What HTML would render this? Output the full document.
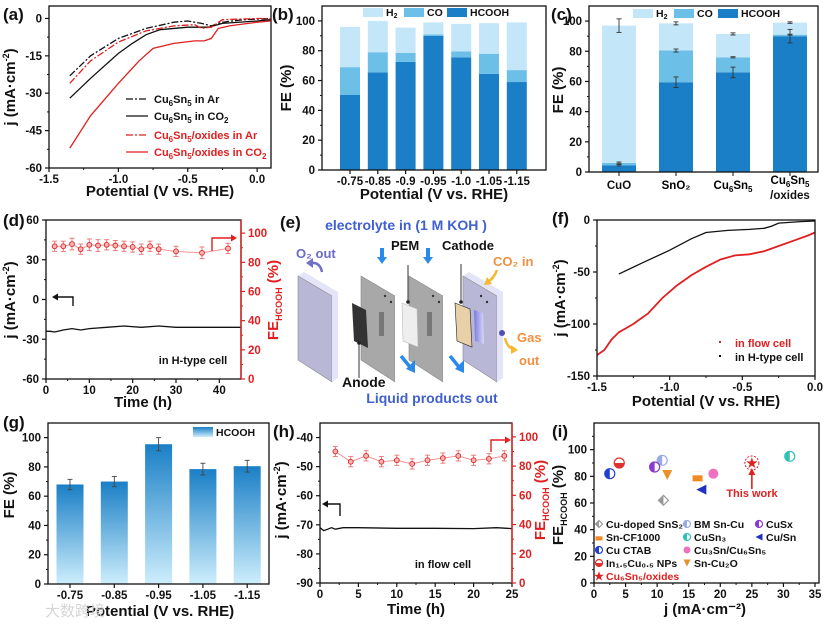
<!DOCTYPE html>
<html><head><meta charset="utf-8">
<style>
html,body{margin:0;padding:0;background:#fff;}
svg{display:block;font-family:"Liberation Sans","Noto Sans CJK SC",sans-serif;}
</style></head>
<body>
<svg id="fig" width="827" height="626" viewBox="0 0 827 626" xmlns="http://www.w3.org/2000/svg"></svg>
<script>
// ---------- DATA ----------
const aArX=[-1.35,-1.2,-1.0,-0.8,-0.6,-0.5,-0.4,-0.33,-0.25,-0.1,0.1];
const aArY=[-23,-15,-8,-4,-1.5,-1,-2,-3,-1.5,-0.5,0];
const aCO2X=[-1.35,-1.2,-1.0,-0.9,-0.8,-0.7,-0.5,-0.35,-0.25,0,0.1];
const aCO2Y=[-32,-24,-14,-10,-6.5,-4.5,-3.5,-3.5,-2,-1,-0.5];
const aOxArX=[-1.35,-1.2,-1.0,-0.8,-0.6,-0.45,-0.4,-0.33,-0.25,0,0.1];
const aOxArY=[-26,-17,-9.5,-5,-3,-2.5,-4,-3.5,-0.5,0,0];
const aOxCO2X=[-1.35,-1.2,-1.0,-0.85,-0.75,-0.6,-0.45,-0.38,-0.33,-0.28,-0.2,0,0.1];
const aOxCO2Y=[-52,-39,-26,-17,-12,-10,-9,-9,-8,-4,-3,-1.5,-1];
const bCats=['-0.75','-0.85','-0.9','-0.95','-1.0','-1.05','-1.15'];
const bHCOOH=[50.5,65.5,72.5,90,75.5,64.5,59];
const bCO=[18.5,13.5,6,1,4,13.5,8];
const bH2=[27,21,17,8,18.5,20.5,32];
const cCats=['CuO','SnO2','Cu6Sn5','Cu6Sn5/oxides'];
const cHCOOH=[4.5,59.5,66,90];
const cCO=[1.5,21,10,1];
const cH2=[91,18,15.5,8];
const cErrHC=[0.5,3.5,3.5,4.5];
const cErrCO=[0.6,1,0.4,0.3];
const cErrTot=[4.5,1,0.7,0.5];
const dJt=[0,1,2,4,6,8,10,14,18,22,26,30,36,40,45];
const dJ=[-24,-24,-24.5,-23,-22,-23,-22,-21,-20,-21,-20,-21,-21,-21,-21];
const dFEt=[2,4,6,8,10,12,14,16,18,20,22,24,26,30,36,42];
const dFE=[91,91,92.5,89,92,91.5,92,91.5,91,90.5,89,91,89,87.5,86.5,89.5];
const dFEerr=[3.5,3.5,4,3.5,4,4,3.5,3.5,3.5,3.5,3.5,3.5,3.5,3.5,4,3.5];
const fHX=[-1.35,-1.2,-1.0,-0.85,-0.75,-0.6,-0.45,-0.35,-0.3,-0.25,-0.1,0];
const fHY=[-52,-42,-29,-18,-12,-10,-9,-8,-6,-3,-1.5,-1];
const fFX=[-1.5,-1.45,-1.4,-1.35,-1.25,-1.15,-1.05,-0.95,-0.85,-0.75,-0.65,-0.55,-0.45,-0.35,-0.25,-0.15,-0.05,0];
const fFY=[-130,-125,-115,-108,-100,-90,-75,-63,-53,-45,-38,-34,-33,-30,-25,-20,-15,-12];
const gCats=['-0.75','-0.85','-0.95','-1.05','-1.15'];
const gFE=[68,70,95.5,78.5,80.5];
const gErr=[3.5,3.5,4.5,4,4];
const hJt=[0,0.5,1,1.5,2,3,5,10,15,20,23,25];
const hJ=[-71,-72,-71.5,-71,-71.5,-71,-71,-71.2,-71.2,-71.3,-71,-71.3];
const hFEt=[2,4,6,8,10,12,14,16,18,20,22,24];
const hFE=[90,83,87,83,84,81.5,84,85.5,87,84,85,87];
const hFEerr=[3.5,3.5,3.5,3.5,3.5,3.5,3.5,3.5,3.5,3.5,3.5,3.5];
const iNames=['Cu-doped SnS2','BM Sn-Cu','CuSx','Sn-CF1000','CuSn3','Cu/Sn','Cu CTAB','Cu3Sn/Cu6Sn5','In1.5Cu0.5 NPs','Sn-Cu2O','Cu6Sn5/oxides'];
const iJ=[11,10.8,9.6,16.4,31,17,2.5,18.9,4,11.6,25];
const iFE=[62,92,87,80,95,70,82,82,90,81,90];

// ---------- HELPERS ----------
const NS='http://www.w3.org/2000/svg';
const svg=document.getElementById('fig');
function mk(tag,a,p){const e=document.createElementNS(NS,tag);for(const k in a)e.setAttribute(k,a[k]);(p||svg).appendChild(e);return e;}
function lin(d0,d1,r0,r1){return v=>r0+(v-d0)/(d1-d0)*(r1-r0);}
function T(s,x,y,o,p){o=o||{};const e=mk('text',{x:x,y:y,'font-size':o.fs||11.5,'font-weight':o.fw||'bold','text-anchor':o.anchor||'middle',fill:o.fill||'#111'},p);if(o.rot)e.setAttribute('transform','rotate(-90 '+x+' '+y+')');e.textContent=s;return e;}
function frame(b,p){const r=mk('rect',{x:b.L,y:b.T,width:b.R-b.L,height:b.B-b.T,fill:'none',stroke:'#111','stroke-width':1.3},p);return r;}
function xTicks(b,sx,vals,labels,minors,p){vals.forEach((v,i)=>{mk('line',{x1:sx(v),x2:sx(v),y1:b.B,y2:b.B+4,stroke:'#111','stroke-width':1.2},p);const t=T(labels[i],sx(v),b.B+15,{},p);});(minors||[]).forEach(v=>mk('line',{x1:sx(v),x2:sx(v),y1:b.B,y2:b.B+2,stroke:'#111'},p));}
function yTicks(b,sy,vals,labels,minors,p,right,col){col=col||'#111';const X=right?b.R:b.L,d=right?1:-1;vals.forEach((v,i)=>{mk('line',{x1:X,x2:X+4*d,y1:sy(v),y2:sy(v),stroke:col,'stroke-width':1.2},p);const t=T(labels[i],X+7*d,sy(v)+4,{anchor:right?'start':'end',fill:col},p);});(minors||[]).forEach(v=>mk('line',{x1:X,x2:X+2*d,y1:sy(v),y2:sy(v),stroke:col},p));}
function pathOf(xs,ys,sx,sy){return xs.map((x,i)=>(i?'L':'M')+sx(x).toFixed(1)+' '+sy(ys[i]).toFixed(1)).join(' ');}
function line(xs,ys,sx,sy,col,dash,w,p){return mk('path',{d:pathOf(xs,ys,sx,sy),fill:'none',stroke:col,'stroke-width':w||1.4,'stroke-dasharray':dash||'none'},p);}
function err(x,y1,y2,col,p){mk('line',{x1:x,x2:x,y1:y1,y2:y2,stroke:col,'stroke-width':0.9},p);mk('line',{x1:x-2.5,x2:x+2.5,y1:y1,y2:y1,stroke:col,'stroke-width':0.9},p);mk('line',{x1:x-2.5,x2:x+2.5,y1:y2,y2:y2,stroke:col,'stroke-width':0.9},p);}
function grp(name){const g=mk('g',{});return g;}
function label(s,x,y,p){const t=T(s,x,y,{fs:17,anchor:'start'},p);}
function ytitle(parts,x,y,p,col){const t=mk('text',{x:x,y:y,'font-size':15,'font-weight':'bold','text-anchor':'middle',fill:col||'#111',transform:'rotate(-90 '+x+' '+y+')'},p);parts.forEach(q=>{const a={};if(q[1])a.dy=q[1];if(q[2])a['font-size']=9;const s=mk('tspan',a,t);s.textContent=q[0];});return t;}
function xtitle(s,x,y,p){const t=T(s,x,y,{fs:15},p);}
const C_HC='#1a7fc6',C_CO='#6cbfe7',C_H2='#c3e6f9';
const JTITLE=[['j (mA·cm'],['-2',-6,1],[')',6,0]];
const FETITLE=[['FE'],['HCOOH',4,1],[' (%)',-4,0]];

// ---------- (a) ----------
(function(){const g=grp('panel-a');const b={L:49,T:6,R:271,B:168};
const sx=lin(-1.5,0.1,b.L,b.R),sy=lin(-60,5,b.B,b.T);
frame(b,g);xTicks(b,sx,[-1.5,-1,-0.5,0],['-1.5','-1.0','-0.5','0.0'],[-1.25,-0.75,-0.25],g);
yTicks(b,sy,[0,-15,-30,-45,-60],['0','-15','-30','-45','-60'],[-7.5,-22.5,-37.5,-52.5],g);
let l=line(aArX,aArY,sx,sy,'#111','7 2 2 2',1.3,g);
l=line(aCO2X,aCO2Y,sx,sy,'#111','',1.3,g);
l=line(aOxArX,aOxArY,sx,sy,'#e02020','7 2 2 2',1.3,g);
l=line(aOxCO2X,aOxCO2Y,sx,sy,'#e02020','',1.3,g);
const leg=[[' in Ar','#111','7 2 2 2',0],[' in CO','#111','',1],['/oxides in Ar','#e02020','7 2 2 2',0],['/oxides in CO','#e02020','',1]];
[103,120,139,156].forEach((y,i)=>{const e=leg[i];mk('line',{x1:126,x2:148,y1:y-4,y2:y-4,stroke:e[1],'stroke-width':1.3,'stroke-dasharray':e[2]||'none'},g);
const t=mk('text',{x:154,y:y,'font-size':11,'font-weight':'bold',fill:e[1]},g);
[['Cu',0,0],['6',3,1],['Sn',-3,0],['5',3,1],[e[0],-3,0]].forEach(q=>{const a={};if(q[1])a.dy=q[1];if(q[2])a['font-size']=8;const s=mk('tspan',a,t);s.textContent=q[0];});
if(e[3]){const s=mk('tspan',{dy:3,'font-size':8},t);s.textContent='2';}});
ytitle(JTITLE,15,87,g);xtitle('Potential (V vs. RHE)',160,196,g);label('(a)',3,20,g);})();

function stacked(g,b,sy,cats,cx,w,hc,co,h2){cats.forEach((c,i)=>{const x=cx(i)-w/2;let y0=0;[[hc[i],C_HC,'bar-hcooh'],[co[i],C_CO,'bar-co'],[h2[i],C_H2,'bar-h2']].forEach(s=>{const r=mk('rect',{x:x,y:sy(y0+s[0]),width:w,height:sy(y0)-sy(y0+s[0]),fill:s[1]},g);y0+=s[0];});});}
function barLegend(g,xs,y,h){[['H',C_H2,'2'],['CO',C_CO],['HCOOH',C_HC]].forEach((e,i)=>{mk('rect',{x:xs[i],y:y,width:20,height:h,fill:e[1]},g);const t=T(e[0],xs[i]+23,y+h-1,{anchor:'start',fs:10.5},g);if(e[2]){const s=mk('tspan',{'font-size':7,dy:2},t);s.textContent=e[2];}});}

// ---------- (b) ----------
(function(){const g=grp('panel-b');const b={L:322,T:6,R:546,B:170};
const sy=lin(0,110,b.B,b.T);const cx=i=>350+i*27.8;
stacked(g,b,sy,bCats,cx,20,bHCOOH,bCO,bH2);
frame(b,g);xTicks(b,i=>cx(i),bCats.map((c,i)=>i),bCats,[],g);
yTicks(b,sy,[0,20,40,60,80,100],['0','20','40','60','80','100'],[10,30,50,70,90],g);
barLegend(g,[363,404,447],8,9);
ytitle([['FE (%)']],291,88,g);xtitle('Potential (V vs. RHE)',434,199,g);label('(b)',272,20,g);})();

// ---------- (c) ----------
(function(){const g=grp('panel-c');const b={L:589,T:6,R:818,B:172};
const sy=lin(0,110,b.B,b.T);const cx=i=>619+i*57;
stacked(g,b,sy,cCats,cx,34,cHCOOH,cCO,cH2);
cCats.forEach((c,i)=>{const t1=cHCOOH[i],t2=t1+cCO[i],t3=t2+cH2[i];err(cx(i),sy(t1+cErrHC[i]),sy(t1-cErrHC[i]),'#333',g);err(cx(i),sy(t2+cErrCO[i]),sy(t2-cErrCO[i]),'#333',g);err(cx(i),sy(t3+cErrTot[i]),sy(t3-cErrTot[i]),'#333',g);});
frame(b,g);
yTicks(b,sy,[0,20,40,60,80,100],['0','20','40','60','80','100'],[10,30,50,70,90],g);
cCats.forEach((c,i)=>mk('line',{x1:cx(i),x2:cx(i),y1:b.B,y2:b.B+4,stroke:'#111'},g));
let t=T('CuO',619,189,{},g);
t=mk('text',{x:676,y:189,'font-size':11.5,'font-weight':'bold','text-anchor':'middle'},g);t.textContent='SnO₂';
function cusn(x,y){const e=mk('text',{x:x,y:y,'font-size':11.5,'font-weight':'bold','text-anchor':'middle'},g);[['Cu',0,0],['6',3,1],['Sn',-3,0],['5',3,1]].forEach(q=>{const a={};if(q[1])a.dy=q[1];if(q[2])a['font-size']=8;const s=mk('tspan',a,e);s.textContent=q[0];});}
cusn(733,189);cusn(790,184);t=T('/oxides',790,199,{},g);
barLegend(g,[633,674,718],9,9);
ytitle([['FE (%)']],563,90,g);label('(c)',551,20,g);})();

function stability(g,b,sx,syL,syR,jt,j,ft,fe,fee){let l=line(jt,j,sx,syL,'#111','',1.3,g);
l=line(ft,fe,sx,syR,'#f08a8a','',0.9,g);
ft.forEach((t,i)=>{err(sx(t),syR(fe[i]+fee[i]),syR(fe[i]-fee[i]),'#e87070',g);const c=mk('circle',{cx:sx(t),cy:syR(fe[i]),r:2.4,fill:'#f7b5b5',stroke:'#e02020','stroke-width':0.9},g);});
mk('line',{x1:b.R,x2:b.R,y1:b.T,y2:b.B,stroke:'#e02020','stroke-width':1.4},g);}
function arrow(g,pts,col){mk('polyline',{points:pts.map(p=>p.join(',')).join(' '),fill:'none',stroke:col,'stroke-width':1.4},g);}
function head(g,x,y,dir,col){const d=dir;mk('polygon',{points:[[x,y],[x-6*d,y-3.5],[x-6*d,y+3.5]].map(p=>p.join(',')).join(' '),fill:col},g);}

// ---------- (d) ----------
(function(){const g=grp('panel-d');const b={L:46,T:220,R:241,B:379};
const sx=lin(0,45,b.L,b.R),syL=lin(-60,60,b.B,b.T),syR=lin(0,109,b.B,b.T);
frame(b,g);stability(g,b,sx,syL,syR,dJt,dJ,dFEt,dFE,dFEerr);
xTicks(b,sx,[0,10,20,30,40],['0','10','20','30','40'],[5,15,25,35],g);
yTicks(b,syL,[60,30,0,-30,-60],['60','30','0','-30','-60'],[45,15,-15,-45],g);
yTicks(b,syR,[0,20,40,60,80,100],['0','20','40','60','80','100'],[10,30,50,70,90],g,true,'#e02020');
arrow(g,[[73,306],[73,297],[55,297]],'#111');head(g,52,297,-1,'#111');
arrow(g,[[212,251],[212,238],[232,238]],'#e02020');head(g,237,238,1,'#e02020');
let t=T('in H-type cell',193,364,{fs:11},g);
ytitle(JTITLE,15,300,g);ytitle(FETITLE,278,300,g,'#e02020');
xtitle('Time (h)',143,407,g);label('(d)',3,226,g);})();

// ---------- (e) diagram ----------
(function(){const g=grp('panel-e-diagram');
function poly(pts,fill,name,stroke){const p=mk('polygon',{points:pts.map(q=>q.join(',')).join(' '),fill:fill,stroke:stroke||'none','stroke-width':0.6},g);return p;}
function plate(x0,x1,face,side,name){poly([[x0,276],[x0+6,272],[x1+6,292],[x1,296]],side,name+'-top');poly([[x0,276],[x1,296],[x1,382],[x0,360]],face,name+'-face','#888');poly([[x1,296],[x1+6,292],[x1+6,378],[x1,382]],side,name+'-side');}
const defs=mk('defs',{},g);const lg=mk('linearGradient',{id:'win',x1:0,y1:0,x2:1,y2:0},defs);mk('stop',{offset:0,'stop-color':'#7a7ae0'},lg);mk('stop',{offset:1,'stop-color':'#d8d8f6'},lg);
plate(298,332,'#b8b8d6','#e4e4f8','o2-block');
plate(361,395,'#a8a8a8','#ffffff','anode-plate');
plate(409,443,'#a8a8a8','#ffffff','pem-plate');
plate(463,497,'#b8b8d6','#e4e4f8','cathode-block');
[[379,312],[427,312]].forEach(p=>mk('rect',{x:p[0],y:p[1],width:5,height:24,fill:'#777'},g));
poly([[352,303],[366,310],[368,348],[354,341]],'#333','anode');
poly([[402,303],[417,309],[418,347],[403,341]],'#eeeeee','pem','#bbb');
poly([[455,303],[470,309],[472,347],[457,341]],'#e8d0a8','cathode','#222');
poly([[474,310],[483,313],[484,344],[475,341]],'url(#win)','cathode-window');
mk('circle',{cx:502,cy:333,r:3,fill:'#5050b0'},g);
[[385,296],[391,302],[433,296],[439,302],[481,296],[487,302]].forEach(p=>mk('circle',{cx:p[0],cy:p[1],r:1.2,fill:'#333'},g));
mk('line',{x1:408,y1:265,x2:408,y2:302,stroke:'#333','stroke-width':1},g);mk('circle',{cx:408,cy:302,r:1.8,fill:'#222'},g);
mk('line',{x1:461,y1:264,x2:461,y2:302,stroke:'#333','stroke-width':1},g);mk('circle',{cx:461,cy:302,r:1.8,fill:'#222'},g);
mk('line',{x1:359,y1:343,x2:359,y2:378,stroke:'#333','stroke-width':1},g);mk('circle',{cx:359,cy:343,r:1.8,fill:'#222'},g);
function blueDown(x,y){mk('rect',{x:x-2,y:y,width:4,height:10,fill:'#2a8ae8'},g);mk('polygon',{points:(x-5)+','+(y+9)+' '+(x+5)+','+(y+9)+' '+x+','+(y+16),fill:'#2a8ae8'},g);}
blueDown(382,248);blueDown(428,248);
function blueDiag(x,y){mk('line',{x1:x,y1:y,x2:x+9,y2:y+11,stroke:'#2a8ae8','stroke-width':3.5},g);mk('polygon',{points:(x+5)+','+(y+13)+' '+(x+14)+','+(y+4)+' '+(x+14)+','+(y+17),fill:'#2a8ae8'},g);}
blueDiag(401,356);blueDiag(450,356);
mk('path',{d:'M322 272 Q320 262 311 263',fill:'none',stroke:'#7070c8','stroke-width':2.5},g);mk('polygon',{points:'306,263 313,258 313,268',fill:'#7070c8'},g);
mk('path',{d:'M497 270 Q494 278 488 282',fill:'none',stroke:'#f5b82e','stroke-width':2.5},g);mk('polygon',{points:'484,285 487,277 492,284',fill:'#f5b82e'},g);
mk('path',{d:'M505 338 Q507 347 513 349',fill:'none',stroke:'#f5b82e','stroke-width':2.5},g);mk('polygon',{points:'518,350 511,345 511,354',fill:'#f5b82e'},g);
function tx(s,x,y,col,fs,name,anchor){const t=T(s,x,y,{fill:col,fs:fs,anchor:anchor||'start'},g);return t;}
tx('electrolyte in (1 M KOH )',406,230,'#4060d0',14,'electrolyte-in-label','middle');
tx('O₂ out',296,258,'#6a6ac8',13,'o2-out-label');
tx('PEM',391,250,'#111',13,'pem-label');
tx('Cathode',442,250,'#111',13,'cathode-label');
tx('CO₂ in',493,266,'#f09040',13,'co2-in-label');
tx('Gas',517,342,'#f09040',13,'gas-out-label');tx('out',519,365,'#f09040',13,'gas-out-label-2');
tx('Anode',342,387,'#111',14,'anode-label');
tx('Liquid products out',432,403,'#4060d0',14,'liquid-out-label','middle');
label('(e)',280,228,g);})();

// ---------- (f) ----------
(function(){const g=grp('panel-f');const b={L:597,T:220,R:815,B:376};
const sx=lin(-1.5,0,b.L,b.R),sy=lin(-150,0,b.B,b.T);
let l=line(fFX,fFY,sx,sy,'#e02020','',1.8,g);
l=line(fHX,fHY,sx,sy,'#111','',1.3,g);
frame(b,g);xTicks(b,sx,[-1.5,-1,-0.5,0],['-1.5','-1.0','-0.5','0.0'],[-1.25,-0.75,-0.25],g);
yTicks(b,sy,[0,-50,-100,-150],['0','-50','-100','-150'],[-25,-75,-125],g);
mk('rect',{x:719,y:341,width:2,height:2,fill:'#e02020'},g);mk('rect',{x:719,y:355,width:2,height:2,fill:'#111'},g);
let t=T('in flow cell',735,347,{anchor:'start',fill:'#e02020',fs:11},g);
t=T('in H-type cell',735,361,{anchor:'start',fs:11},g);
ytitle(JTITLE,565,298,g);xtitle('Potential (V vs. RHE)',706,406,g);label('(f)',552,224,g);})();

// ---------- (g) ----------
(function(){const g=grp('panel-g');const b={L:48,T:423,R:269,B:584};
const sy=lin(0,110,b.B,b.T);const cx=i=>70+i*44.3;
const defs=mk('defs',{},g);const lg=mk('linearGradient',{id:'gg',x1:0,y1:0,x2:0,y2:1},defs);mk('stop',{offset:0,'stop-color':'#1a7fc6'},lg);mk('stop',{offset:1,'stop-color':'#cdeefc'},lg);
gCats.forEach((c,i)=>{const r=mk('rect',{x:cx(i)-13.5,y:sy(gFE[i]),width:27,height:sy(0)-sy(gFE[i]),fill:'url(#gg)'},g);err(cx(i),sy(gFE[i]+gErr[i]),sy(gFE[i]-gErr[i]),'#444',g);});
frame(b,g);xTicks(b,cx,gCats.map((c,i)=>i),gCats,[],g);
yTicks(b,sy,[0,20,40,60,80,100],['0','20','40','60','80','100'],[10,30,50,70,90],g);
mk('rect',{x:193,y:427,width:20,height:10,fill:'url(#gg)'},g);
let t=T('HCOOH',216,436,{anchor:'start',fs:10.5},g);
ytitle([['FE (%)']],14,495,g);xtitle('Potential (V vs. RHE)',160,616,g);label('(g)',3,428,g);
t=T('大数跨境',75,616,{fill:'#d6d6d6',fs:15,fw:'normal'},g);})();

// ---------- (h) ----------
(function(){const g=grp('panel-h');const b={L:320,T:423,R:512,B:583};
const sx=lin(0,25,b.L,b.R),syL=lin(-90,-35,b.B,b.T),syR=lin(0,109.5,b.B,b.T);
frame(b,g);stability(g,b,sx,syL,syR,hJt,hJ,hFEt,hFE,hFEerr);
xTicks(b,sx,[0,5,10,15,20,25],['0','5','10','15','20','25'],[2.5,7.5,12.5,17.5,22.5],g);
yTicks(b,syL,[-40,-50,-60,-70,-80,-90],['-40','-50','-60','-70','-80','-90'],[-45,-55,-65,-75,-85],g);
yTicks(b,syR,[0,20,40,60,80,100],['0','20','40','60','80','100'],[10,30,50,70,90],g,true,'#e02020');
arrow(g,[[340,516],[340,504],[326,504]],'#111');head(g,322,504,-1,'#111');
arrow(g,[[491,452],[491,440],[506,440]],'#e02020');head(g,511,440,1,'#e02020');
let t=T('in flow cell',443,568,{fs:11},g);
ytitle(JTITLE,286,500,g);ytitle(FETITLE,545,500,g,'#e02020');
xtitle('Time (h)',416,614,g);label('(h)',273,437,g);})();

// ---------- (i) ----------
(function(){const g=grp('panel-i');const b={L:594,T:423,R:819,B:583};
const sx=lin(0,35,b.L,815),sy=lin(0,120,b.B,b.T);
frame(b,g);xTicks(b,sx,[0,5,10,15,20,25,30,35],['0','5','10','15','20','25','30','35'],[2.5,7.5,12.5,17.5,22.5,27.5,32.5],g);
yTicks(b,sy,[0,20,40,60,80,100],['0','20','40','60','80','100'],[10,30,50,70,90,110],g);
const cols=['#999','#9aaae8','#8a3ad0','#f08a20','#30c0b8','#2030c0','#2040d0','#f070c0','#e03030','#e8902a','#e02020'];
function marker(k,x,y,s){const c=cols[k];let e;
if(k===5){e=mk('polygon',{points:(x-s)+','+y+' '+(x+s)+','+(y-s)+' '+(x+s)+','+(y+s),fill:c},g);}
else if(k===9){e=mk('polygon',{points:(x-s)+','+(y-s)+' '+(x+s)+','+(y-s)+' '+x+','+(y+s),fill:c},g);}
else if(k===3){e=mk('rect',{x:x-s,y:y-s,width:2*s,height:2*s,fill:c},g);mk('rect',{x:x-s,y:y-s,width:2*s,height:s*0.8,fill:'#fff'},g);}
else if(k===0){e=mk('polygon',{points:x+','+(y-s)+' '+(x+s)+','+y+' '+x+','+(y+s)+' '+(x-s)+','+y,fill:'#fff',stroke:c,'stroke-width':1.2},g);mk('polygon',{points:x+','+(y-s)+' '+x+','+(y+s)+' '+(x-s)+','+y,fill:c},g);}
else if(k===10){e=mk('text',{x:x,y:y+s,'font-size':s*3,'text-anchor':'middle',fill:c},g);e.textContent='★';}
else if(k===7){e=mk('circle',{cx:x,cy:y,r:s,fill:c},g);}
else{e=mk('circle',{cx:x,cy:y,r:s,fill:'#fff',stroke:c,'stroke-width':1.2},g);mk('path',{d:'M'+x+' '+(y-s)+' A'+s+' '+s+' 0 0 '+(k===8?1:0)+' '+x+' '+(y+s)+'Z',fill:c,transform:k===8?'rotate(90 '+x+' '+y+')':''},g);}
return e;}
iNames.forEach((n,k)=>{const e=marker(k,sx(iJ[k]),sy(iFE[k]),k===10?4:5);});
mk('circle',{cx:sx(25),cy:sy(90),r:7,fill:'none',stroke:'#e02020','stroke-dasharray':'2 1.5'},g);
mk('line',{x1:sx(25),y1:489,x2:sx(25),y2:474,stroke:'#e02020','stroke-width':1.6},g);mk('polygon',{points:(sx(25)-3.5)+',475 '+(sx(25)+3.5)+',475 '+sx(25)+',468',fill:'#e02020'},g);
let t=T('This work',752,497,{fill:'#e02020',fs:11},g);
const legPos=[[599,528],[687,528],[759,528],[599,541],[687,541],[759,541],[599,554],[687,554],[599,567],[687,567],[599,580]];
const legTxt=['Cu-doped SnS₂','BM Sn-Cu','CuSx','Sn-CF1000','CuSn₃','Cu/Sn','Cu CTAB','Cu₃Sn/Cu₆Sn₅','In₁.₅Cu₀.₅ NPs','Sn-Cu₂O','Cu₆Sn₅/oxides'];
legPos.forEach((p,k)=>{marker(k,p[0],p[1]-4,3.5);const e=T(legTxt[k],p[0]+7,p[1],{anchor:'start',fs:10.5,fill:k===10?'#e02020':'#111'},g);});
ytitle(FETITLE,563,505,g);xtitle('j (mA·cm⁻²)',705,614,g);label('(i)',552,437,g);})();
</script>
</body></html>
